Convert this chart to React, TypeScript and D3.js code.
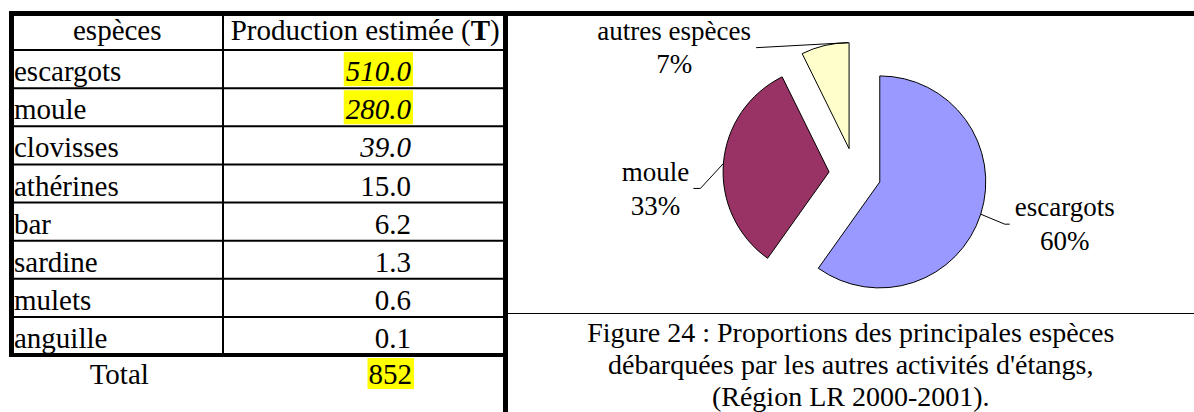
import React, { useRef, useEffect } from "react";
import * as d3 from "d3";

// table data
const species = ["escargots", "moule", "clovisses", "athérines", "bar", "sardine", "mulets", "anguille"];
const production = [510.0, 280.0, 39.0, 15.0, 6.2, 1.3, 0.6, 0.1];
const totalText = "852";
const headers = ["espèces", "Production estimée"];

// pie data (escargots, moule, le reste)
const pieLabels = ["escargots", "moule", "autres espèces"];
const pieValues = [production[0], production[1], d3.sum(production.slice(2))];
const pieColors = ["#9999FF", "#993366", "#FFFFCC"];

const captionLines = [
  "Figure 24 : Proportions des principales espèces",
  "débarquées par les autres activités d'étangs,",
  "(Région LR 2000-2001).",
];

const italicRows = ["escargots", "moule", "clovisses"];
const highlightRows = ["escargots", "moule"];

const FONT = "'Liberation Serif', 'Times New Roman', serif";

// placement of leader lines / labels, one per slice
const labelLayout = [
  { t: 0.5, elbow: [24, 10], tail: 5, textDx: 55, textDy: -8 },
  { t: 0.5, elbow: [-23, 25], tail: -7, textDx: -38, textDy: -7 },
  { t: 0.98, elbow: [-92, 5], tail: 0, textDx: -82, textDy: -8 },
];

const App = () => {
  const svgRef = useRef<SVGSVGElement>(null);

  useEffect(() => {
    const svg = d3.select(svgRef.current);
    svg.selectAll("*").remove();

    const W = 1194;
    const H = 412;
    svg.attr("width", W).attr("height", H);
    svg.append("rect").attr("width", W).attr("height", H).attr("fill", "#fff");

    // ---------- tableau ----------
    const tLeft = 11.5, tRight = 505.5, tTop = 13.5, tBottom = 355;
    const colX = 223;
    const headerBottom = 50;
    const valueRight = 411;

    const y = d3.scaleBand<string>().domain(species).range([headerBottom, tBottom]);

    const table = svg.append("g").attr("font-family", FONT).attr("font-size", 29).attr("fill", "#000");

    // lignes fines
    const rowLines = [headerBottom, ...species.slice(1).map(s => y(s) as number)];
    table.selectAll(".row-line")
      .data(rowLines)
      .enter()
      .append("line")
      .attr("x1", tLeft).attr("x2", tRight)
      .attr("y1", d => d).attr("y2", d => d)
      .attr("stroke", "#000").attr("stroke-width", 2);

    table.append("line")
      .attr("x1", colX).attr("x2", colX)
      .attr("y1", tTop).attr("y2", tBottom)
      .attr("stroke", "#000").attr("stroke-width", 2);

    // en-tête
    table.append("text")
      .attr("x", (tLeft + colX) / 2)
      .attr("y", 40)
      .attr("text-anchor", "middle")
      .text(headers[0]);

    const h2 = table.append("text")
      .attr("x", (colX + tRight) / 2 + 1)
      .attr("y", 40)
      .attr("text-anchor", "middle");
    h2.append("tspan").text(headers[1] + " (");
    h2.append("tspan").attr("font-weight", "bold").text("T");
    h2.append("tspan").text(")");

    // lignes de données
    species.forEach((s, i) => {
      const base = (y(s) as number) + y.bandwidth() - 7;
      table.append("text")
        .attr("x", 14)
        .attr("y", base)
        .text(s);

      const hl = table.append("rect").attr("fill", "#FFFF00");
      const val = table.append("text")
        .attr("x", valueRight)
        .attr("y", base)
        .attr("text-anchor", "end")
        .attr("font-style", italicRows.includes(s) ? "italic" : "normal")
        .text(production[i].toFixed(1));

      if (highlightRows.includes(s)) {
        const w = (val.node() as SVGTextElement).getComputedTextLength();
        hl.attr("x", valueRight - w - 2).attr("width", w + 4)
          .attr("y", base - 29).attr("height", 34);
      } else {
        hl.remove();
      }
    });

    // total
    const totalBase = 384;
    table.append("text")
      .attr("x", (tLeft + colX) / 2 + 2)
      .attr("y", totalBase)
      .attr("text-anchor", "middle")
      .text("Total");
    const totHl = table.append("rect").attr("fill", "#FFFF00");
    const tot = table.append("text")
      .attr("x", valueRight + 1)
      .attr("y", totalBase)
      .attr("text-anchor", "end")
      .text(totalText);
    const tw = (tot.node() as SVGTextElement).getComputedTextLength();
    totHl.attr("x", valueRight + 1 - tw - 1).attr("width", tw + 3)
      .attr("y", totalBase - 26).attr("height", 31);

    // bordures épaisses
    svg.append("line")
      .attr("x1", tLeft - 2.5).attr("x2", W)
      .attr("y1", tTop).attr("y2", tTop)
      .attr("stroke", "#000").attr("stroke-width", 5);
    svg.append("line")
      .attr("x1", tLeft).attr("x2", tLeft)
      .attr("y1", tTop).attr("y2", tBottom + 2)
      .attr("stroke", "#000").attr("stroke-width", 5);
    svg.append("line")
      .attr("x1", tRight).attr("x2", tRight)
      .attr("y1", tTop).attr("y2", H)
      .attr("stroke", "#000").attr("stroke-width", 5);
    svg.append("line")
      .attr("x1", tLeft - 2.5).attr("x2", tRight)
      .attr("y1", tBottom).attr("y2", tBottom)
      .attr("stroke", "#000").attr("stroke-width", 4);

    // séparation graphique / légende
    svg.append("line")
      .attr("x1", tRight).attr("x2", W)
      .attr("y1", 313.5).attr("y2", 313.5)
      .attr("stroke", "#000").attr("stroke-width", 1.2);

    // ---------- camembert ----------
    const cx = 855, cy = 174, r = 106, explode = 26;
    const total = d3.sum(pieValues);
    const pct = d3.format(".0%");

    const pie = d3.pie<number>().sort(null).value(d => d);
    const arcs = pie(pieValues);
    const arc = d3.arc<d3.PieArcDatum<number>>().innerRadius(0).outerRadius(r);

    const chart = svg.append("g").attr("transform", `translate(${cx},${cy})`);

    arcs.forEach((a, i) => {
      const mid = (a.startAngle + a.endAngle) / 2;
      const ox = explode * Math.sin(mid);
      const oy = -explode * Math.cos(mid);

      chart.append("path")
        .attr("transform", `translate(${ox},${oy})`)
        .attr("d", arc(a) as string)
        .attr("fill", pieColors[i])
        .attr("stroke", "#000")
        .attr("stroke-width", 1)
        .attr("stroke-linejoin", "round");

      // ligne de rappel
      const L = labelLayout[i];
      const ang = a.startAngle + (a.endAngle - a.startAngle) * L.t;
      const px = ox + r * Math.sin(ang);
      const py = oy - r * Math.cos(ang);
      const ex = px + L.elbow[0];
      const ey = py + L.elbow[1];
      const tx = ex + L.tail;

      chart.append("path")
        .attr("d", d3.line()([[px, py], [ex, ey], [tx, ey]]) as string)
        .attr("fill", "none")
        .attr("stroke", "#000")
        .attr("stroke-width", 1);

      const label = chart.append("text")
        .attr("font-family", FONT)
        .attr("font-size", 27)
        .attr("text-anchor", "middle")
        .attr("fill", "#000");
      label.append("tspan")
        .attr("x", tx + L.textDx)
        .attr("y", ey + L.textDy)
        .text(pieLabels[i]);
      label.append("tspan")
        .attr("x", tx + L.textDx)
        .attr("y", ey + L.textDy + 33.5)
        .text(pct(pieValues[i] / total));
    });

    // légende de figure
    svg.append("g")
      .attr("font-family", FONT)
      .attr("font-size", 28)
      .attr("text-anchor", "middle")
      .selectAll("text")
      .data(captionLines)
      .enter()
      .append("text")
      .attr("x", (tRight + W) / 2 + 1)
      .attr("y", (d, i) => 342 + i * 32)
      .text(d => d);
  }, []);

  return (
    <div style={{ position: "absolute", left: 0, top: 0, width: 1194, height: 412 }}>
      <svg ref={svgRef} style={{ display: "block" }}></svg>
    </div>
  );
};

export default App;
